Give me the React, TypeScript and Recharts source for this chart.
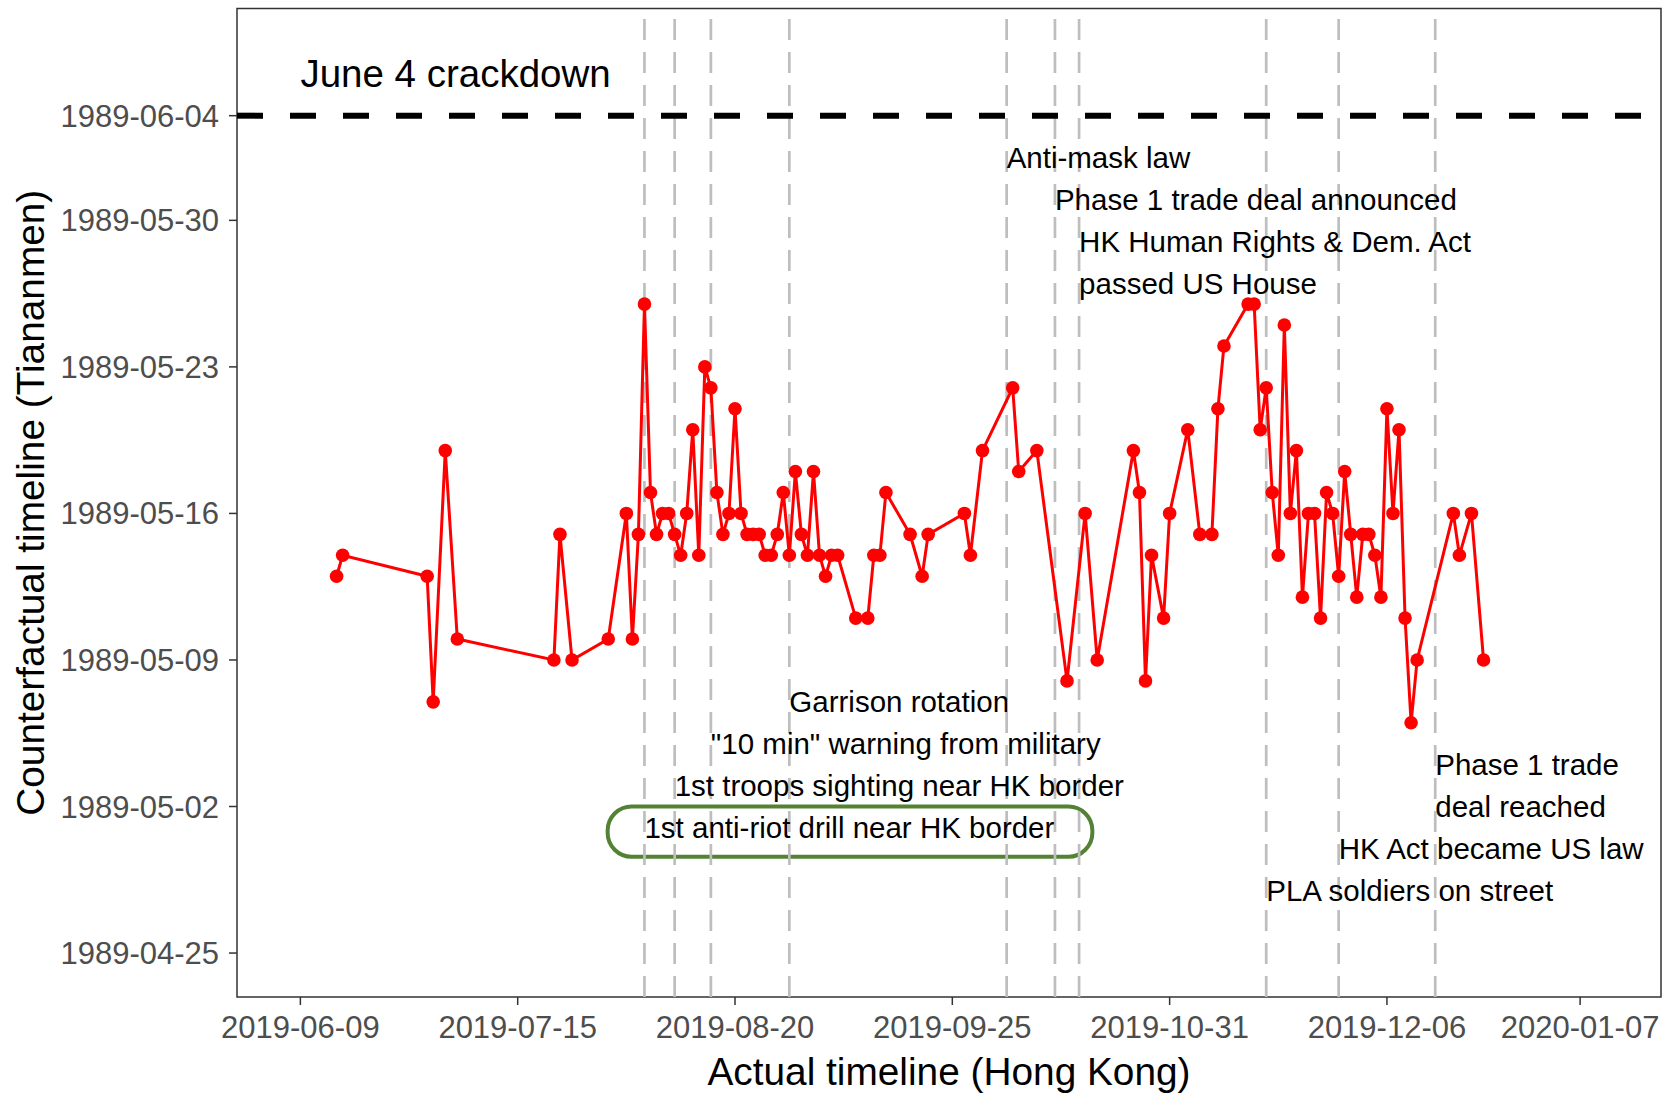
import React from 'react';
import { LineChart, Line, XAxis, YAxis, ReferenceLine, ReferenceArea, ReferenceDot } from 'recharts';

const FONT = '"Liberation Sans", Arial, sans-serif';

// x: days since 2019-06-09 (Hong Kong), y: days relative to 1989-05-16 (Tiananmen)
const HK_BASE = Date.UTC(2019, 5, 9);
const TAM_BASE = Date.UTC(1989, 4, 16);
const DAY = 86400000;

const hkDay = [6, 7, 21, 22, 24, 26, 42, 43, 45, 51, 54, 55, 56, 57, 58, 59, 60, 61, 62, 63, 64, 65, 66, 67, 68, 69, 70, 71, 72, 73, 74, 75, 76, 77, 78, 79, 80, 81, 82, 83, 84, 85, 86, 87, 88, 89, 92, 94, 95, 96, 97, 101, 103, 104, 110, 111, 113, 118, 119, 122, 127, 130, 132, 138, 139, 140, 141, 143, 144, 147, 149, 151, 152, 153, 157, 158, 159, 160, 161, 162, 163, 164, 165, 166, 167, 168, 169, 170, 171, 172, 173, 174, 175, 176, 177, 178, 179, 180, 181, 182, 183, 184, 185, 191, 192, 194, 196];
const tiananmenDay = [-3, -2, -3, -9, 3, -6, -7, -1, -7, -6, 0, -6, -1, 10, 1, -1, 0, 0, -1, -2, 0, 4, -2, 7, 6, 1, -1, 0, 5, 0, -1, -1, -1, -2, -2, -1, 1, -2, 2, -1, -2, 2, -2, -3, -2, -2, -5, -5, -2, -2, 1, -1, -3, -1, 0, -2, 3, 6, 2, 3, -8, 0, -7, 3, 1, -8, -2, -5, 0, 4, -1, -1, 5, 8, 10, 10, 4, 6, 1, -2, 9, 0, 3, -4, 0, 0, -5, 1, 0, -3, 2, -1, -4, -1, -1, -2, -4, 5, 0, 4, -5, -10, -7, 0, -2, 0, -7];

const xTickLabels = ['2019-06-09', '2019-07-15', '2019-08-20', '2019-09-25', '2019-10-31', '2019-12-06', '2020-01-07'];
const yTickLabels = ['1989-04-25', '1989-05-02', '1989-05-09', '1989-05-16', '1989-05-23', '1989-05-30', '1989-06-04'];

const crackdownDay = 19; // 1989-06-04
const eventDays = [57, 62, 68, 81, 117, 125, 129, 160, 172, 188];

const noteText = ['Anti-mask law', 'Phase 1 trade deal announced', 'HK Human Rights & Dem. Act', 'passed US House', 'Garrison rotation', '"10 min" warning from military', '1st troops sighting near HK border', '1st anti-riot drill near HK border', 'Phase 1 trade', 'deal reached', 'HK Act became US law', 'PLA soldiers on street'];
const noteX = [117, 125, 129, 129, 81, 68, 62, 57, 188, 188, 172, 160];
const noteY = [17, 15, 13, 11, -9, -11, -13, -15, -12, -14, -16, -18];

// highlight box around the anti-riot drill note (data units)
const boxX = [50.9, 131.2];
const boxY = [-16.4, -14.0];

const X_MIN = -10.5, X_MAX = 225.4;
const Y_MIN = -23.1, Y_MAX = 24.12;

const data = hkDay.map((x, i) => ({ x, y: tiananmenDay[i] }));
const toHk = (s: string) => Math.round((Date.parse(s) - HK_BASE) / DAY);
const toTam = (s: string) => Math.round((Date.parse(s) - TAM_BASE) / DAY);
const xTicks = xTickLabels.map(toHk);
const yTicks = yTickLabels.map(toTam);
const fmtHk = (d: number) => new Date(HK_BASE + d * DAY).toISOString().slice(0, 10);
const fmtTam = (d: number) => new Date(TAM_BASE + d * DAY).toISOString().slice(0, 10);

const textShape = (label: string, size: number) => (p: any) => (
  <text x={p.cx} y={p.cy} fontSize={size} fontFamily={FONT} fill="#000" dominantBaseline="central">
    {label}
  </text>
);

const YTitle = (props: any) => {
  const vb = props.viewBox;
  const cx = 30;
  const cy = vb.y + vb.height / 2;
  return (
    <text x={cx} y={cy} transform={`rotate(-90 ${cx} ${cy})`} textAnchor="middle" dominantBaseline="central"
      fontSize={38.8} fontFamily={FONT} fill="#000">
      Counterfactual timeline (Tiananmen)
    </text>
  );
};

const XTitle = (props: any) => {
  const vb = props.viewBox;
  return (
    <text x={vb.x + vb.width / 2} y={vb.y + 74} textAnchor="middle" dominantBaseline="central"
      fontSize={38.8} fontFamily={FONT} fill="#000">
      Actual timeline (Hong Kong)
    </text>
  );
};

const App = () => {
  const tickStyle = { fill: '#4D4D4D', fontSize: 31, fontFamily: FONT };
  return (
    <div style={{ position: 'absolute', left: 0, top: 0, background: '#fff' }}>
      <LineChart width={1675} height={1093} data={data} margin={{ top: 8.5, right: 14, bottom: 0, left: 0 }}>
        <XAxis dataKey="x" type="number" domain={[X_MIN, X_MAX]} allowDataOverflow ticks={xTicks}
          tickFormatter={fmtHk} height={96} axisLine={false} tickSize={8} tickMargin={11}
          tickLine={{ stroke: '#333333', strokeWidth: 1.5 }} tick={tickStyle} interval={0} label={<XTitle />} />
        <YAxis dataKey="y" type="number" domain={[Y_MIN, Y_MAX]} allowDataOverflow ticks={yTicks}
          tickFormatter={fmtTam} width={237} axisLine={false} tickSize={8} tickMargin={10}
          tickLine={{ stroke: '#333333', strokeWidth: 1.5 }} tick={tickStyle} interval={0} label={<YTitle />} />
        {eventDays.map((d) => (
          <ReferenceLine key={'v' + d} x={d} stroke="#BEBEBE" strokeWidth={2.7} strokeDasharray="21 12" />
        ))}
        <Line dataKey="y" stroke="#FF0000" strokeWidth={3} isAnimationActive={false}
          dot={{ r: 6.8, fill: '#FF0000', stroke: 'none' }} activeDot={false} />
        <ReferenceLine y={crackdownDay} stroke="#000" strokeWidth={6} strokeDasharray="26 27" />
        <ReferenceDot x={0} y={21} r={0} shape={textShape('June 4 crackdown', 38.5)} />
        {noteText.map((t, i) => (
          <ReferenceDot key={'n' + i} x={noteX[i]} y={noteY[i]} r={0} shape={textShape(t, 29.5)} />
        ))}
        <ReferenceArea x1={boxX[0]} x2={boxX[1]} y1={boxY[0]} y2={boxY[1]}
          shape={(p: any) => (
            <rect x={p.x} y={p.y} width={p.width} height={p.height} rx={24} ry={24}
              fill="none" stroke="#548235" strokeWidth={4} />
          )} />
        <ReferenceArea x1={X_MIN} x2={X_MAX} y1={Y_MIN} y2={Y_MAX} fill="none" fillOpacity={0}
          stroke="#333333" strokeWidth={1.5} />
      </LineChart>
    </div>
  );
};

export default App;
